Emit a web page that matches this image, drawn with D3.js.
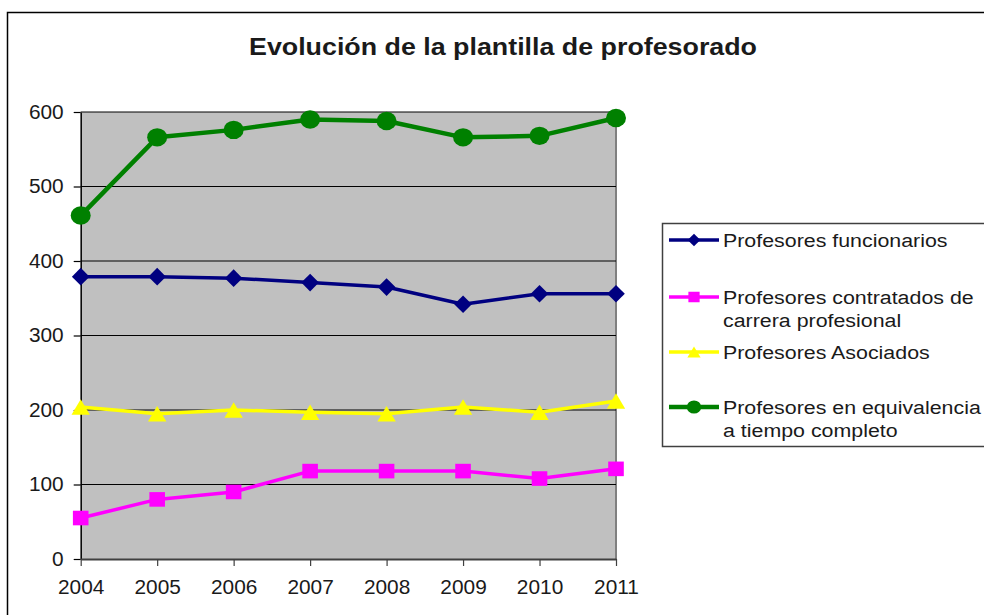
<!DOCTYPE html>
<html>
<head>
<meta charset="utf-8">
<script src="https://cdn.jsdelivr.net/npm/d3@7"></script>
<style>
  html, body { margin: 0; padding: 0; background: #fff; }
  svg { display: block; }
  text { font-family: "Liberation Sans", Arial, sans-serif; fill: #1a1a1a; }
</style>
</head>
<body>
<svg id="chart" width="984" height="615"></svg>
<script>
// ---- data ----
const years = ["2004", "2005", "2006", "2007", "2008", "2009", "2010", "2011"];
const funcionarios = [379, 379, 377, 371, 365, 342, 356, 356];
const contratados = [55, 80, 90, 118, 118, 118, 108, 121];
const asociados = [204, 195, 200, 197, 195, 204, 197, 212];
const equivalencia = [461, 566, 576, 590, 588, 566, 568, 592];
const yTicks = [0, 100, 200, 300, 400, 500, 600];
const titleText = "Evolución de la plantilla de profesorado";
const seriesNames = [
  ["Profesores funcionarios"],
  ["Profesores contratados de", "carrera profesional"],
  ["Profesores Asociados"],
  ["Profesores en equivalencia", "a tiempo completo"]
];

const series = [
  { values: funcionarios, name: seriesNames[0], color: "#000080", marker: "diamond", width: 3.5 },
  { values: contratados, name: seriesNames[1], color: "#FF00FF", marker: "square", width: 3.5 },
  { values: asociados, name: seriesNames[2], color: "#FFFF00", marker: "triangle", width: 3.5 },
  { values: equivalencia, name: seriesNames[3], color: "#008000", marker: "circle", width: 4.5 }
];

function markerPath(type, k) {
  switch (type) {
    case "diamond": { const h = 8.8 * k; return `M0,${-h}L${h},0L0,${h}L${-h},0Z`; }
    case "square": { const w = 7.8 * k, h = 7.3 * k; return `M${-w},${-h}H${w}V${h}H${-w}Z`; }
    case "triangle": { const w = 9.2 * k, h = 7.8 * k; return `M0,${-h}L${w},${h}L${-w},${h}Z`; }
    case "circle": { const rx = 10 * k, ry = 9.2 * k; return `M${-rx},0A${rx},${ry} 0 1,0 ${rx},0A${rx},${ry} 0 1,0 ${-rx},0Z`; }
  }
}

const svg = d3.select("#chart");

// outer frame
svg.append("rect").attr("x", 7.5).attr("y", 12.5).attr("width", 1100).attr("height", 700)
  .attr("fill", "#fff").attr("stroke", "#000").attr("stroke-width", 1.5);

const pLeft = 80.7, pRight = 616, pTop = 112, pBottom = 559;
const x = d3.scalePoint().domain(years).range([pLeft, pRight]);
const y = d3.scaleLinear().domain([0, 600]).range([pBottom, pTop]);

// plot background
svg.append("rect").attr("x", pLeft).attr("y", pTop).attr("width", pRight - pLeft).attr("height", pBottom - pTop)
  .attr("fill", "#C0C0C0");
// right border of plot area
svg.append("line").attr("x1", pRight).attr("x2", pRight).attr("y1", pTop).attr("y2", pBottom)
  .attr("stroke", "#808080").attr("stroke-width", 2);

// gridlines
svg.append("g").selectAll("line").data(yTicks.filter(d => d > 0)).join("line")
  .attr("x1", pLeft).attr("x2", pRight)
  .attr("y1", d => y(d)).attr("y2", d => y(d))
  .attr("stroke", "#000").attr("stroke-width", 1);

// y axis
const yAxis = svg.append("g").attr("transform", `translate(${pLeft},0)`)
  .call(d3.axisLeft(y).tickValues(yTicks).tickSize(7).tickSizeOuter(0).tickPadding(10));
yAxis.select(".domain").attr("stroke", "#000").attr("stroke-width", 1.5);
yAxis.selectAll(".tick line").attr("stroke", "#000").attr("stroke-width", 1.2);
yAxis.selectAll(".tick text").attr("font-size", 19.5).attr("fill", "#1a1a1a")
  .attr("font-family", '"Liberation Sans", Arial, sans-serif')
  .attr("transform", "translate(-17,0) scale(1.07,1) translate(17,0)");

// x axis
const xAxis = svg.append("g").attr("transform", `translate(0,${pBottom})`)
  .call(d3.axisBottom(x).tickSize(7).tickSizeOuter(0).tickPadding(14));
xAxis.select(".domain").attr("stroke", "#404040").attr("stroke-width", 2);
xAxis.selectAll(".tick line").attr("stroke", "#404040").attr("stroke-width", 1.2);
xAxis.selectAll(".tick text").attr("font-size", 19.5).attr("fill", "#1a1a1a")
  .attr("font-family", '"Liberation Sans", Arial, sans-serif')
  .attr("transform", "scale(1.07,1)");

// lines + markers
const line = d3.line().x((d, i) => x(years[i])).y(d => y(d));
series.forEach(s => {
  svg.append("path").datum(s.values).attr("d", line)
    .attr("fill", "none").attr("stroke", s.color).attr("stroke-width", s.width)
    .attr("stroke-linejoin", "round");
  svg.append("g").selectAll("path").data(s.values).join("path")
    .attr("transform", (d, i) => `translate(${x(years[i])},${y(d)})`)
    .attr("d", markerPath(s.marker, 1))
    .attr("fill", s.color);
});

// title
svg.append("text").attr("x", 503).attr("y", 55).attr("text-anchor", "middle")
  .attr("font-size", 23.5).attr("font-weight", "bold")
  .attr("textLength", 508).attr("lengthAdjust", "spacingAndGlyphs")
  .text(titleText);

// legend
const lg = svg.append("g");
lg.append("rect").attr("x", 662.5).attr("y", 223.5).attr("width", 400).attr("height", 223)
  .attr("fill", "#fff").attr("stroke", "#404040").attr("stroke-width", 1.5);
const rowY = [240, 297, 352, 407];
series.forEach((s, i) => {
  const cy = rowY[i];
  lg.append("line").attr("x1", 669).attr("x2", 719).attr("y1", cy).attr("y2", cy)
    .attr("stroke", s.color).attr("stroke-width", s.width);
  lg.append("path").attr("transform", `translate(694,${cy})`)
    .attr("d", markerPath(s.marker, 0.72)).attr("fill", s.color);
  s.name.forEach((t, j) => {
    lg.append("text")
      .attr("transform", `translate(723,${cy + 6.8 + j * 22.7}) scale(1.125,1)`)
      .attr("font-size", 19)
      .text(t);
  });
});
</script>
</body>
</html>
